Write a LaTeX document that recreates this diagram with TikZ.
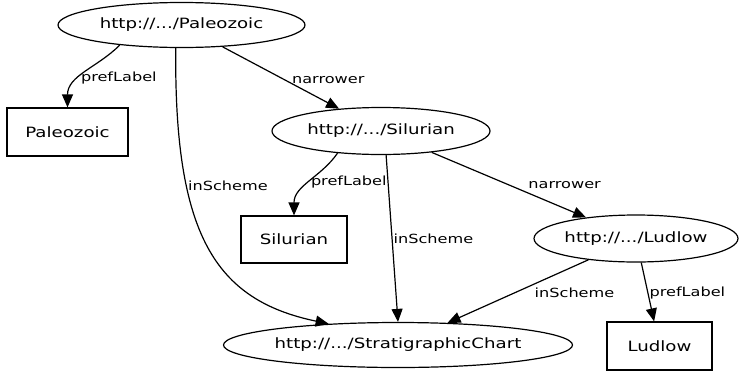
\documentclass[tikz,border=0pt]{standalone}
\usepackage{fontspec}
\setmainfont[FakeStretch=1.28]{DejaVu Sans}
\usetikzlibrary{arrows.meta, shapes.geometric}

\begin{document}
\begin{tikzpicture}[x=1pt, y=-1pt, >={Triangle[length=13pt,width=11pt]},
	uri/.style={draw, ellipse, inner sep=0pt, line width=1.2pt, font=\fontsize{14.2}{16}\selectfont},
	lit/.style={draw, rectangle, inner sep=0pt, line width=1.2pt, font=\fontsize{14.2}{16}\selectfont},
	rel/.style={->, line width=1.2pt},
	lbl/.style={anchor=west, inner sep=1pt, font=\fontsize{12.6}{14}\selectfont}]
	\useasboundingbox (0,0) rectangle (739,370);
	% Nodes
	\node[uri, minimum width=247pt, minimum height=45pt] (pal) at (181.5,25) {http://.../Paleozoic};
	\node[lit, minimum width=121pt, minimum height=48pt] (palbox) at (67.5,132) {Paleozoic};
	\node[uri, minimum width=218pt, minimum height=47pt] (sil) at (381,131) {http://.../Silurian};
	\node[lit, minimum width=106pt, minimum height=47pt] (silbox) at (294,239.5) {Silurian};
	\node[uri, minimum width=204pt, minimum height=47pt] (lud) at (636,238.5) {http://.../Ludlow};
	\node[uri, minimum width=344pt, minimum height=45pt] (chart) at (398,345) {http://.../StratigraphicChart};
	\node[lit, minimum width=105pt, minimum height=48pt] (ludbox) at (659.5,346) {Ludlow};
	
	% Edges
	\draw[rel] (pal.198) to[out=225, in=90] node[lbl, pos=0.6] {prefLabel} (palbox);
	\draw[rel] (pal) -- node[lbl, pos=0.54, xshift=5pt] {narrower} (sil);
	\draw[rel] (pal.256) .. controls (174,235) and (215,300) .. node[lbl, pos=0.3] {inScheme} (chart.163);
	\draw[rel] (sil.207) to[out=235, in=90] node[lbl, pos=0.5] {prefLabel} (silbox);
	\draw[rel] (sil.282) -- node[lbl, pos=0.5] {inScheme} (chart.north);
	\draw[rel] (sil) -- node[lbl, pos=0.5, xshift=18pt] {narrower} (lud);
	\draw[rel] (lud) -- node[lbl, pos=0.52, xshift=18pt] {inScheme} (chart);
	\draw[rel] (lud) -- node[lbl, pos=0.52] {prefLabel} (ludbox);
\end{tikzpicture}
\end{document}
